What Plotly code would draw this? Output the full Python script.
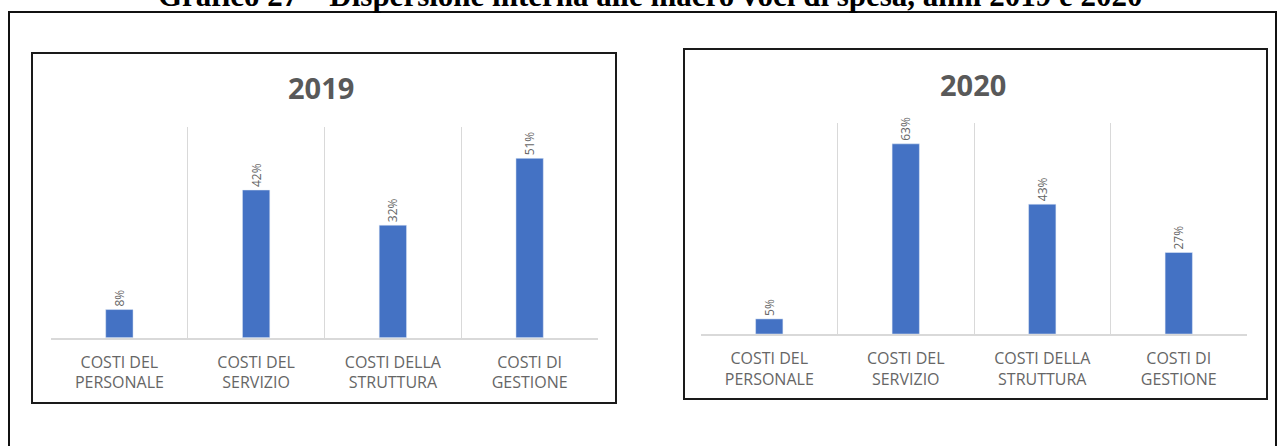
import plotly.graph_objects as go

W, H = 1283, 446

categories = ["COSTI DEL<br>PERSONALE", "COSTI DEL<br>SERVIZIO",
              "COSTI DELLA<br>STRUTTURA", "COSTI DI<br>GESTIONE"]
values_2019 = [0.08, 0.42, 0.32, 0.51]
values_2020 = [0.05, 0.63, 0.43, 0.27]
panel_titles = ["2019", "2020"]
figure_title = "Grafico 27 – Dispersione interna alle macro voci di spesa, anni 2019 e 2020"

BAR = "#4472C4"
TXT = "#595959"
LBL = "#666666"
GRID = "#D9D9D9"
FONT = "Open Sans"


def px_x(x):
    return x / W


def px_y(y):
    return 1 - y / H


fig = go.Figure()

fig.add_trace(go.Bar(x=categories, y=values_2019, marker_color=BAR,
                     texttemplate="%{y:.0%}", textposition="outside",
                     textangle=-90, cliponaxis=False,
                     textfont=dict(family=FONT, size=12, color=LBL),
                     xaxis="x", yaxis="y", showlegend=False))
fig.add_trace(go.Bar(x=categories, y=values_2020, marker_color=BAR,
                     texttemplate="%{y:.0%}", textposition="outside",
                     textangle=-90, cliponaxis=False,
                     textfont=dict(family=FONT, size=12, color=LBL),
                     xaxis="x2", yaxis="y2", showlegend=False))

xcommon = dict(type="category", tickson="boundaries", showgrid=True,
               gridcolor=GRID, gridwidth=1, showline=True, linecolor=GRID,
               linewidth=1.5, ticks="", ticklabelstandoff=9,
               tickfont=dict(family=FONT, size=16, color=LBL),
               fixedrange=True)
ycommon = dict(showgrid=False, zeroline=False, showticklabels=False,
               ticks="", showline=False, fixedrange=True)

fig.update_layout(
    width=W, height=H,
    margin=dict(l=0, r=0, t=0, b=0),
    paper_bgcolor="white", plot_bgcolor="white",
    bargap=0.8,
    xaxis=dict(domain=[px_x(51), px_x(598)], anchor="y", **xcommon),
    yaxis=dict(domain=[px_y(337.7), px_y(126.7)], anchor="x",
               range=[0, 0.6], **ycommon),
    xaxis2=dict(domain=[px_x(701), px_x(1247)], anchor="y2", **xcommon),
    yaxis2=dict(domain=[px_y(334), px_y(122.7)], anchor="x2",
                range=[0, 0.7], **ycommon),
)

# Panel titles
for title, cx, cy in zip(panel_titles, [321, 973], [87, 84]):
    fig.add_annotation(text=f"<b>{title}</b>", xref="paper", yref="paper",
                       x=px_x(cx), y=px_y(cy), xanchor="center",
                       yanchor="middle", showarrow=False,
                       font=dict(family=FONT, size=29, color=TXT))

# Document heading, running off the top edge
fig.add_annotation(text=f"<b>{figure_title}</b>", xref="paper", yref="paper",
                   x=px_x(650), y=px_y(15), xanchor="center", yanchor="bottom",
                   showarrow=False,
                   font=dict(family="Liberation Serif", size=31, color="black"))

# Outer frame and panel borders
fig.add_shape(type="rect", xref="paper", yref="paper",
              x0=px_x(9), x1=px_x(1276), y0=px_y(470), y1=px_y(12),
              line=dict(color="#111111", width=2), fillcolor="rgba(0,0,0,0)")
for x0, y0, x1, y1 in [(32, 53, 616, 403), (684, 49, 1267, 399)]:
    fig.add_shape(type="rect", xref="paper", yref="paper",
                  x0=px_x(x0), x1=px_x(x1), y0=px_y(y1), y1=px_y(y0),
                  line=dict(color="#1a1a1a", width=2),
                  fillcolor="rgba(0,0,0,0)", layer="below")

fig.write_html("out.html")
